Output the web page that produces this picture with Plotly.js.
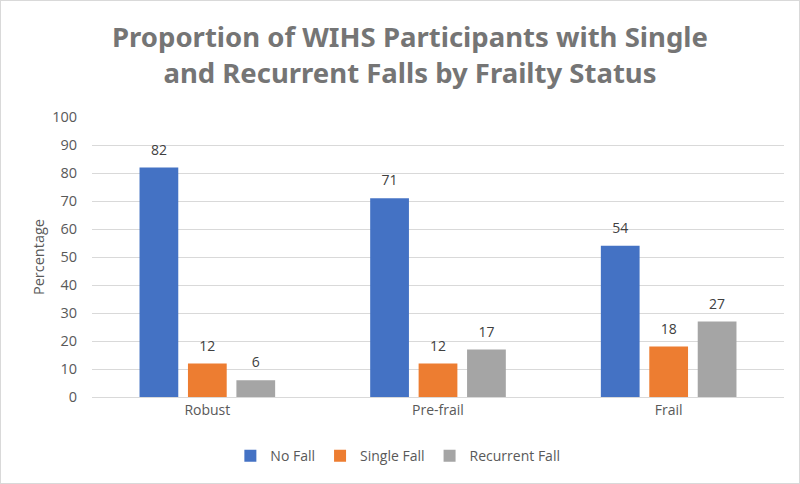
<!DOCTYPE html>
<html>
<head>
<meta charset="utf-8">
<script src="https://cdn.plot.ly/plotly-3.0.1.min.js"></script>
<style>
html,body{margin:0;padding:0;background:#fff;}
#chart{width:798px;height:482px;border:1px solid #D9D9D9;}
</style>
</head>
<body>
<div id="chart"></div>
<script>
const categories = ["Robust", "Pre-frail", "Frail"];
const noFall = [82, 71, 54];
const singleFall = [12, 12, 18];
const recurrentFall = [6, 17, 27];
const seriesNames = ["No Fall", "Single Fall", "Recurrent Fall"];
const colors = ["#4472C4", "#ED7D31", "#A5A5A5"];

const fontFam = "'Open Sans', 'Noto Sans', sans-serif";
const series = [noFall, singleFall, recurrentFall];
const data = series.map((vals, i) => ({
  type: "bar",
  name: seriesNames[i],
  x: categories,
  y: vals,
  text: vals.map(v => "<span style='font-size:14px'>" + v + "</span><br> "),
  textposition: "outside",
  cliponaxis: false,
  textfont: {family: fontFam, size: 6, color: "#404040"},
  marker: {color: colors[i]},
  hoverinfo: "none"
}));

const layout = {
  width: 798, height: 482,
  margin: {l: 91, r: 15, t: 116, b: 85},
  paper_bgcolor: "#fff",
  plot_bgcolor: "#fff",
  barmode: "group",
  bargap: 0.37,
  bargroupgap: 0.2,
  showlegend: true,
  title: {
    text: "Proportion of WIHS Participants with Single<br>and Recurrent Falls by Frailty Status",
    font: {family: "'Noto Sans', sans-serif", size: 27.5, color: "#757575", weight: "bold"},
    x: 0.5125, xanchor: "center", y: 0.905, yanchor: "middle"
  },
  xaxis: {
    showgrid: false,
    showline: true, linecolor: "#D9D9D9", linewidth: 1,
    ticks: "",
    tickfont: {family: fontFam, size: 14, color: "#595959"},
    fixedrange: true
  },
  yaxis: {
    range: [0, 100],
    dtick: 10,
    showgrid: true, gridcolor: "#D9D9D9", gridwidth: 1,
    zeroline: false,
    showline: false,
    ticks: "",
    ticklabelstandoff: 14,
    tickfont: {family: fontFam, size: 14.5, color: "#595959"},
    title: {text: "Percentage", font: {family: fontFam, size: 14.5, color: "#595959"}, standoff: 4},
    fixedrange: true
  },
  legend: {
    orientation: "h",
    x: 0.442, xanchor: "center",
    y: -0.15, yanchor: "top",
    font: {family: fontFam, size: 14, color: "#595959"},
    itemwidth: 30,
    traceorder: "normal"
  }
};

Plotly.newPlot("chart", data, layout, {displayModeBar: false, staticPlot: true});
</script>
</body>
</html>
